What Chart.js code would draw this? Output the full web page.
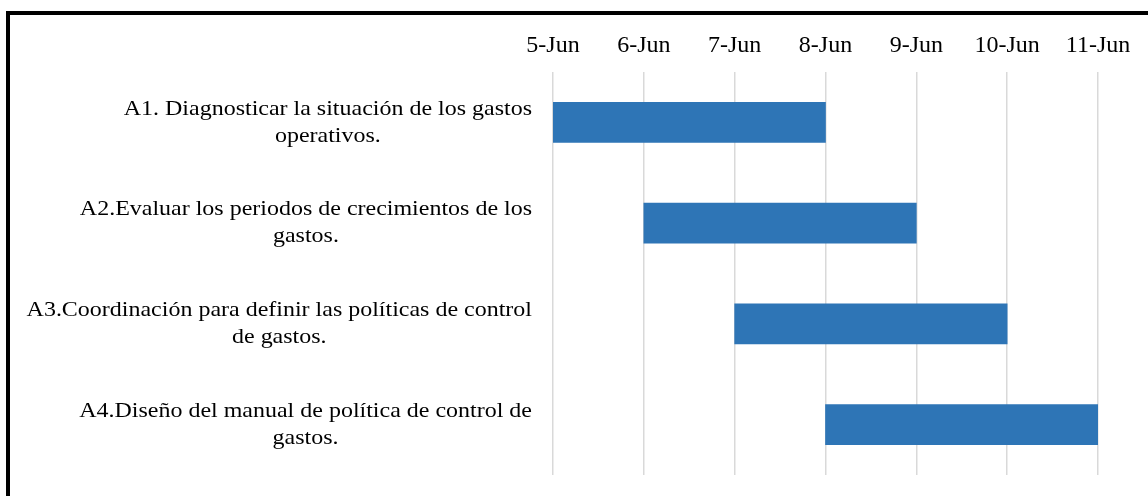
<!DOCTYPE html>
<html>
<head>
<meta charset="utf-8">
<script src="https://cdn.jsdelivr.net/npm/chart.js@4"></script>
<style>
  html, body { margin: 0; padding: 0; background: #fff; overflow: hidden; }
  #wrap { position: absolute; left: 0; top: 0; width: 1148px; height: 496px; }
  #frame { position: absolute; left: 6px; top: 11px; width: 1200px; height: 600px;
           border-left: 4px solid #000; border-top: 4px solid #000; pointer-events: none; }
</style>
</head>
<body>
<div id="wrap"><canvas id="gantt_chart"></canvas></div>
<div id="frame"></div>
<script>
// GANTT DATA
const tasks = [
    ['A1. Diagnosticar la situación de los gastos', 'operativos.'],
    ['A2.Evaluar los periodos de crecimientos de los', 'gastos.'],
    ['A3.Coordinación para definir las políticas de control', 'de gastos.'],
    ['A4.Diseño del manual de política de control de', 'gastos.']
];
const startDays = [5, 6, 7, 8];
const durations = [3, 3, 3, 3];
const dayTicks = [5, 6, 7, 8, 9, 10, 11];
const dayLabels = ['5-Jun', '6-Jun', '7-Jun', '8-Jun', '9-Jun', '10-Jun', '11-Jun'];

const FONT = "'Liberation Serif', 'Times New Roman', serif";
const FONT_SIZE = 22;
const STRETCH = 1.09;     // the source text is a bit wider than plain Times
const LABEL_RIGHT = 532;

// draw task labels: lines centred on each other, each block right aligned
const taskLabels = {
    id: 'taskLabels',
    afterDraw(chart) {
        const ctx = chart.ctx;
        const yScale = chart.scales.y;
        ctx.save();
        ctx.font = FONT_SIZE + 'px ' + FONT;
        ctx.fillStyle = '#000';
        ctx.textAlign = 'center';
        ctx.textBaseline = 'middle';
        const lh = 27;
        tasks.forEach((lines, i) => {
            const widest = Math.max(...lines.map(l => ctx.measureText(l).width)) * STRETCH;
            const cx = LABEL_RIGHT - widest / 2;
            const cy = yScale.getPixelForTick(i);
            const top = cy - (lines.length - 1) * lh / 2;
            lines.forEach((l, j) => {
                ctx.save();
                ctx.translate(cx, top + j * lh);
                ctx.scale(STRETCH, 1);
                ctx.fillText(l, 0, 0);
                ctx.restore();
            });
        });
        ctx.restore();
    }
};

const ctx = document.getElementById('gantt_chart');

const chart_data = {
    labels: tasks,
    datasets: [{
        label: 'Duración',
        data: startDays.map((s, i) => [s, s + durations[i]]),
        backgroundColor: '#2e75b6',
        borderWidth: 0,
        barThickness: 40
    }]
};

const config = {
    type: 'bar',
    data: chart_data,
    options: {
        indexAxis: 'y',
        responsive: true,
        maintainAspectRatio: false,
        animation: false,
        layout: { padding: { top: 0, right: 50, bottom: 21, left: 0 } },
        plugins: {
            legend: { display: false },
            tooltip: { enabled: false }
        },
        scales: {
            x: {
                type: 'linear',
                position: 'top',
                min: dayTicks[0],
                max: dayTicks[dayTicks.length - 1],
                afterBuildTicks: scale => {
                    scale.ticks = dayTicks.map(v => ({ value: v }));
                },
                afterFit: scale => { scale.height = 72; },
                ticks: {
                    padding: 12,
                    color: '#000',
                    font: { family: FONT, size: 24 },
                    maxRotation: 0,
                    callback: (value) => dayLabels[dayTicks.indexOf(value)]
                },
                grid: { color: '#d9d9d9', lineWidth: 1.5, drawTicks: false },
                border: { display: false }
            },
            y: {
                type: 'category',
                afterFit: scale => { scale.width = 553; },
                ticks: { display: false },
                grid: { display: false },
                border: { display: false }
            }
        }
    },
    plugins: [taskLabels]
};

const chart = new Chart(ctx, config);
</script>
</body>
</html>
